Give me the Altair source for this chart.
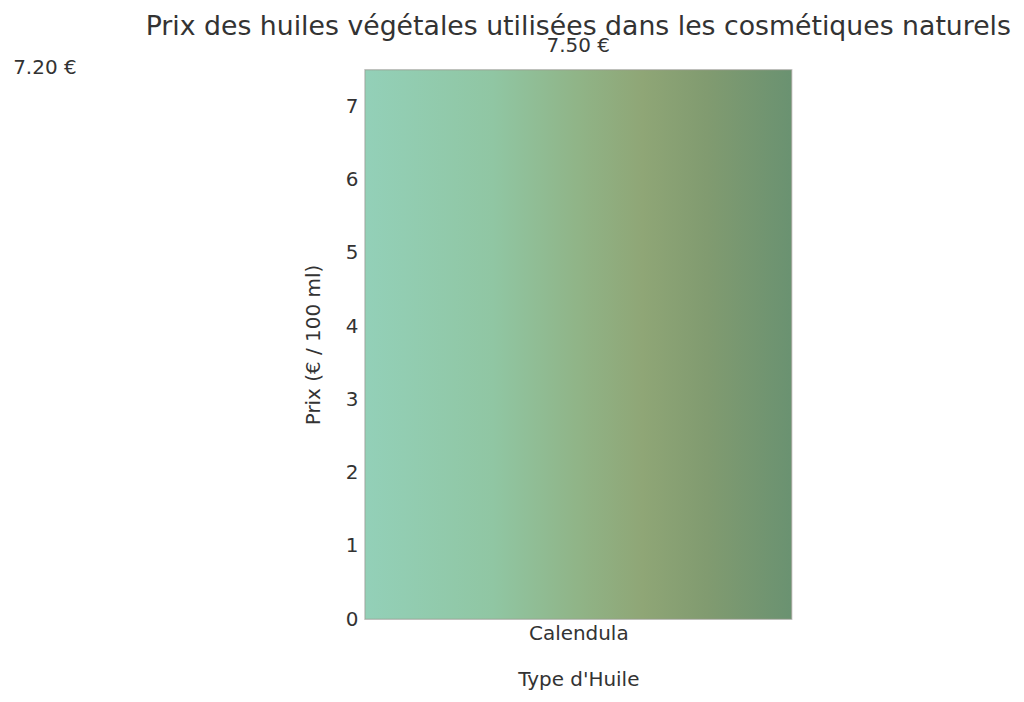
import altair as alt
import pandas as pd

oils = ["Jojoba", "Calendula"]
prices = [7.20, 7.50]
labels = ["7.20 €", "7.50 €"]
focus = "Calendula"
grad_colors = ["#93d0b8", "#90c6a3", "#90b487", "#8fa676", "#819b70", "#6a9271"]
grad_offsets = [0.0, 0.3, 0.5, 0.65, 0.8, 1.0]

pos = list(range(len(oils)))
fi = oils.index(focus)
df = pd.DataFrame({"oil": oils, "price": prices, "label": labels, "pos": pos})
df["left"] = df["pos"] - 0.4
df["right"] = df["pos"] + 0.4

label_expr = "[" + ",".join("'" + o + "'" for o in oils) + "][datum.value]"

xscale = alt.Scale(domain=[fi - 0.4, fi + 0.4], nice=False, zero=False)
yscale = alt.Scale(domain=[0, 7.5], nice=False)

font = "DejaVu Sans"

bars = alt.Chart(df).mark_bar(
    clip=True,
    stroke="#9a9a8a",
    strokeWidth=0.8,
    color=alt.Gradient(
        gradient="linear",
        stops=[alt.GradientStop(color=c, offset=o) for c, o in zip(grad_colors, grad_offsets)],
        x1=0, x2=1, y1=0, y2=0,
    ),
).encode(
    x=alt.X("left:Q", scale=xscale,
            axis=alt.Axis(values=[fi], labelExpr=label_expr, title="Type d'Huile",
                          ticks=False, domain=False, grid=False, labelPadding=4,
                          titlePadding=26)),
    x2="right:Q",
    y=alt.Y("price:Q", scale=yscale,
            axis=alt.Axis(values=list(range(8)), format="d", title="Prix (€ / 100 ml)",
                          ticks=False, domain=False, grid=False, labelPadding=7,
                          titlePadding=22)),
    y2=alt.datum(0),
)

text = alt.Chart(df).mark_text(
    baseline="bottom", dy=-14, fontSize=20, font=font, color="#333333", clip=False
).encode(
    x=alt.X("pos:Q", scale=xscale),
    y=alt.Y("price:Q", scale=yscale),
    text="label:N",
)

chart = (bars + text).properties(
    width=428, height=551,
    title=alt.TitleParams("Prix des huiles végétales utilisées dans les cosmétiques naturels",
                          fontSize=26.8, font=font, color="#333333", fontWeight="normal",
                          offset=-5),
).configure_view(stroke="#c8c8c8", strokeWidth=1.5).configure_axis(
    labelFont=font, titleFont=font, labelFontSize=20, titleFontSize=20,
    labelColor="#333333", titleColor="#333333", titleFontWeight="normal",
)

chart.save("out.html", embed_options={"renderer": "svg", "actions": False})
